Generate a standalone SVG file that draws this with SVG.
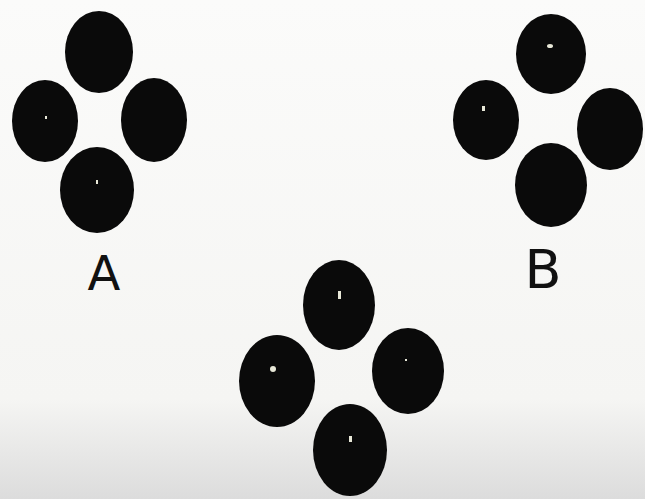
<svg xmlns="http://www.w3.org/2000/svg" width="645" height="499" viewBox="0 0 645 499">
  <defs>
    <linearGradient id="bg" x1="0" y1="0" x2="0" y2="1">
      <stop offset="0" stop-color="#fbfbfa"/>
      <stop offset="0.8" stop-color="#f5f5f3"/>
      <stop offset="1" stop-color="#dcdcdc"/>
    </linearGradient>
  </defs>
  <style>
    .blob { fill: #0a0a0a; }
    .speck { fill: #e8e8d8; }
    .lbl { font-family: "DejaVu Sans", "Liberation Sans", sans-serif; fill: #111; text-anchor: middle; }
  </style>
  <rect width="645" height="499" fill="url(#bg)"/>

  <g id="groupA">
    <g id="A-top"><ellipse class="blob" cx="99" cy="52" rx="34" ry="41"/></g>
    <g id="A-left"><ellipse class="blob" cx="45" cy="121" rx="33" ry="41"/><rect class="speck" x="45" y="116" width="2" height="3"/></g>
    <g id="A-right"><ellipse class="blob" cx="154" cy="120" rx="33" ry="42"/></g>
    <g id="A-bottom"><ellipse class="blob" cx="97" cy="190" rx="37" ry="43"/><rect class="speck" x="96" y="180" width="2" height="4"/></g>
    <g id="A-label"><text class="lbl" x="104" y="290" font-size="48">A</text></g>
  </g>

  <g id="groupB">
    <g id="B-top"><ellipse class="blob" cx="551" cy="54" rx="35" ry="40"/><ellipse class="speck" cx="550" cy="46" rx="3" ry="2"/></g>
    <g id="B-left"><ellipse class="blob" cx="486" cy="120" rx="33" ry="40"/><rect class="speck" x="482" y="106" width="3" height="5"/></g>
    <g id="B-right"><ellipse class="blob" cx="610" cy="129" rx="33" ry="41"/></g>
    <g id="B-bottom"><ellipse class="blob" cx="551" cy="185" rx="36" ry="42"/></g>
    <g id="B-label"><text class="lbl" x="543" y="288" font-size="54">B</text></g>
  </g>

  <g id="groupC">
    <g id="C-top"><ellipse class="blob" cx="339" cy="305" rx="36" ry="45"/><rect class="speck" x="338" y="291" width="3" height="8"/></g>
    <g id="C-left"><ellipse class="blob" cx="277" cy="381" rx="38" ry="46"/><ellipse class="speck" cx="273" cy="369" rx="3" ry="3"/></g>
    <g id="C-right"><ellipse class="blob" cx="408" cy="371" rx="36" ry="43"/><rect class="speck" x="405" y="359" width="2" height="2"/></g>
    <g id="C-bottom"><ellipse class="blob" cx="350" cy="450" rx="37" ry="46"/><rect class="speck" x="349" y="436" width="3" height="6"/></g>
  </g>
</svg>
